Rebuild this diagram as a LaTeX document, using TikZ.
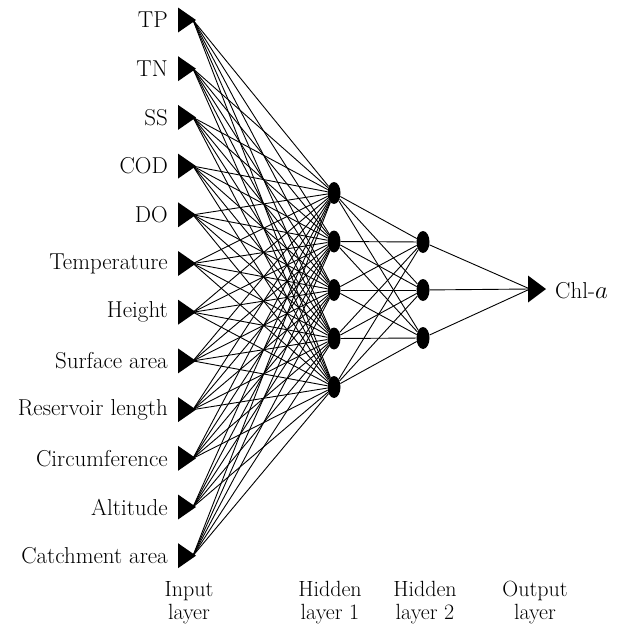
\documentclass[tikz,border=0pt]{standalone}
\usetikzlibrary{shapes.geometric}
\begin{document}
\begin{tikzpicture}[x=1pt,y=-1pt,
  every node/.style={font=\fontsize{23}{26}\selectfont},
  neuron/.style={ellipse, fill=black, minimum width=13pt, minimum height=22pt, inner sep=0pt},
  link/.style={line width=0.9pt},
  lbl/.style={anchor=east, inner sep=0pt},
  laycap/.style={align=center, inner sep=0pt, font=\fontsize{22}{23}\selectfont}]
\useasboundingbox (0,0) rectangle (622,627);
% input layer: triangles (base at x=178, tip at x=196)
\foreach \k/\t [count=\i from 0] in {1/TP,2/TN,3/SS,4/COD,5/DO,6/Temperature,7/Height,8/Surface area,9/Reservoir length,10/Circumference,11/Altitude,12/Catchment area}{
  \coordinate (b\k) at (178,{20+48.7*\i});
  \coordinate (i\k) at (193,{20+48.7*\i});
  \fill (b\k) ++(0,-12.5) -- ++(18,12.5) -- ++(-18,12.5) -- cycle;
  \node[lbl] (l\k) at (168,{20+48.7*\i}) {\t};
}
% hidden layer 1
\foreach \k [count=\i from 0] in {1,...,5}{
  \node[neuron] (h\k) at (334,{193+48.5*\i}) {};
}
% hidden layer 2
\foreach \k [count=\i from 0] in {1,2,3}{
  \node[neuron] (g\k) at (423,{242+48*\i}) {};
}
% output triangle
\coordinate (o) at (530,289);
\fill (528,275.5) -- (546,289) -- (528,302.5) -- cycle;
\node[anchor=west, inner sep=0pt] (ol) at (555,291) {Chl-$a$};
% connections
\foreach \a in {1,...,12}{
  \foreach \b in {1,...,5}{
    \draw[link] (i\a) -- (h\b);
  }
}
\foreach \a in {1,...,5}{
  \foreach \b in {1,2,3}{
    \draw[link] (h\a) -- (g\b);
  }
}
\foreach \b in {1,2,3}{
  \draw[link] (g\b) -- (o);
}
% layer captions
\node[laycap] (c1) at (189,603) {Input\\layer};
\node[laycap] (c2) at (330,603) {Hidden\\layer 1};
\node[laycap] (c3) at (425,603) {Hidden\\layer 2};
\node[laycap] (c4) at (535,603) {Output\\layer};
\end{tikzpicture}
\end{document}
